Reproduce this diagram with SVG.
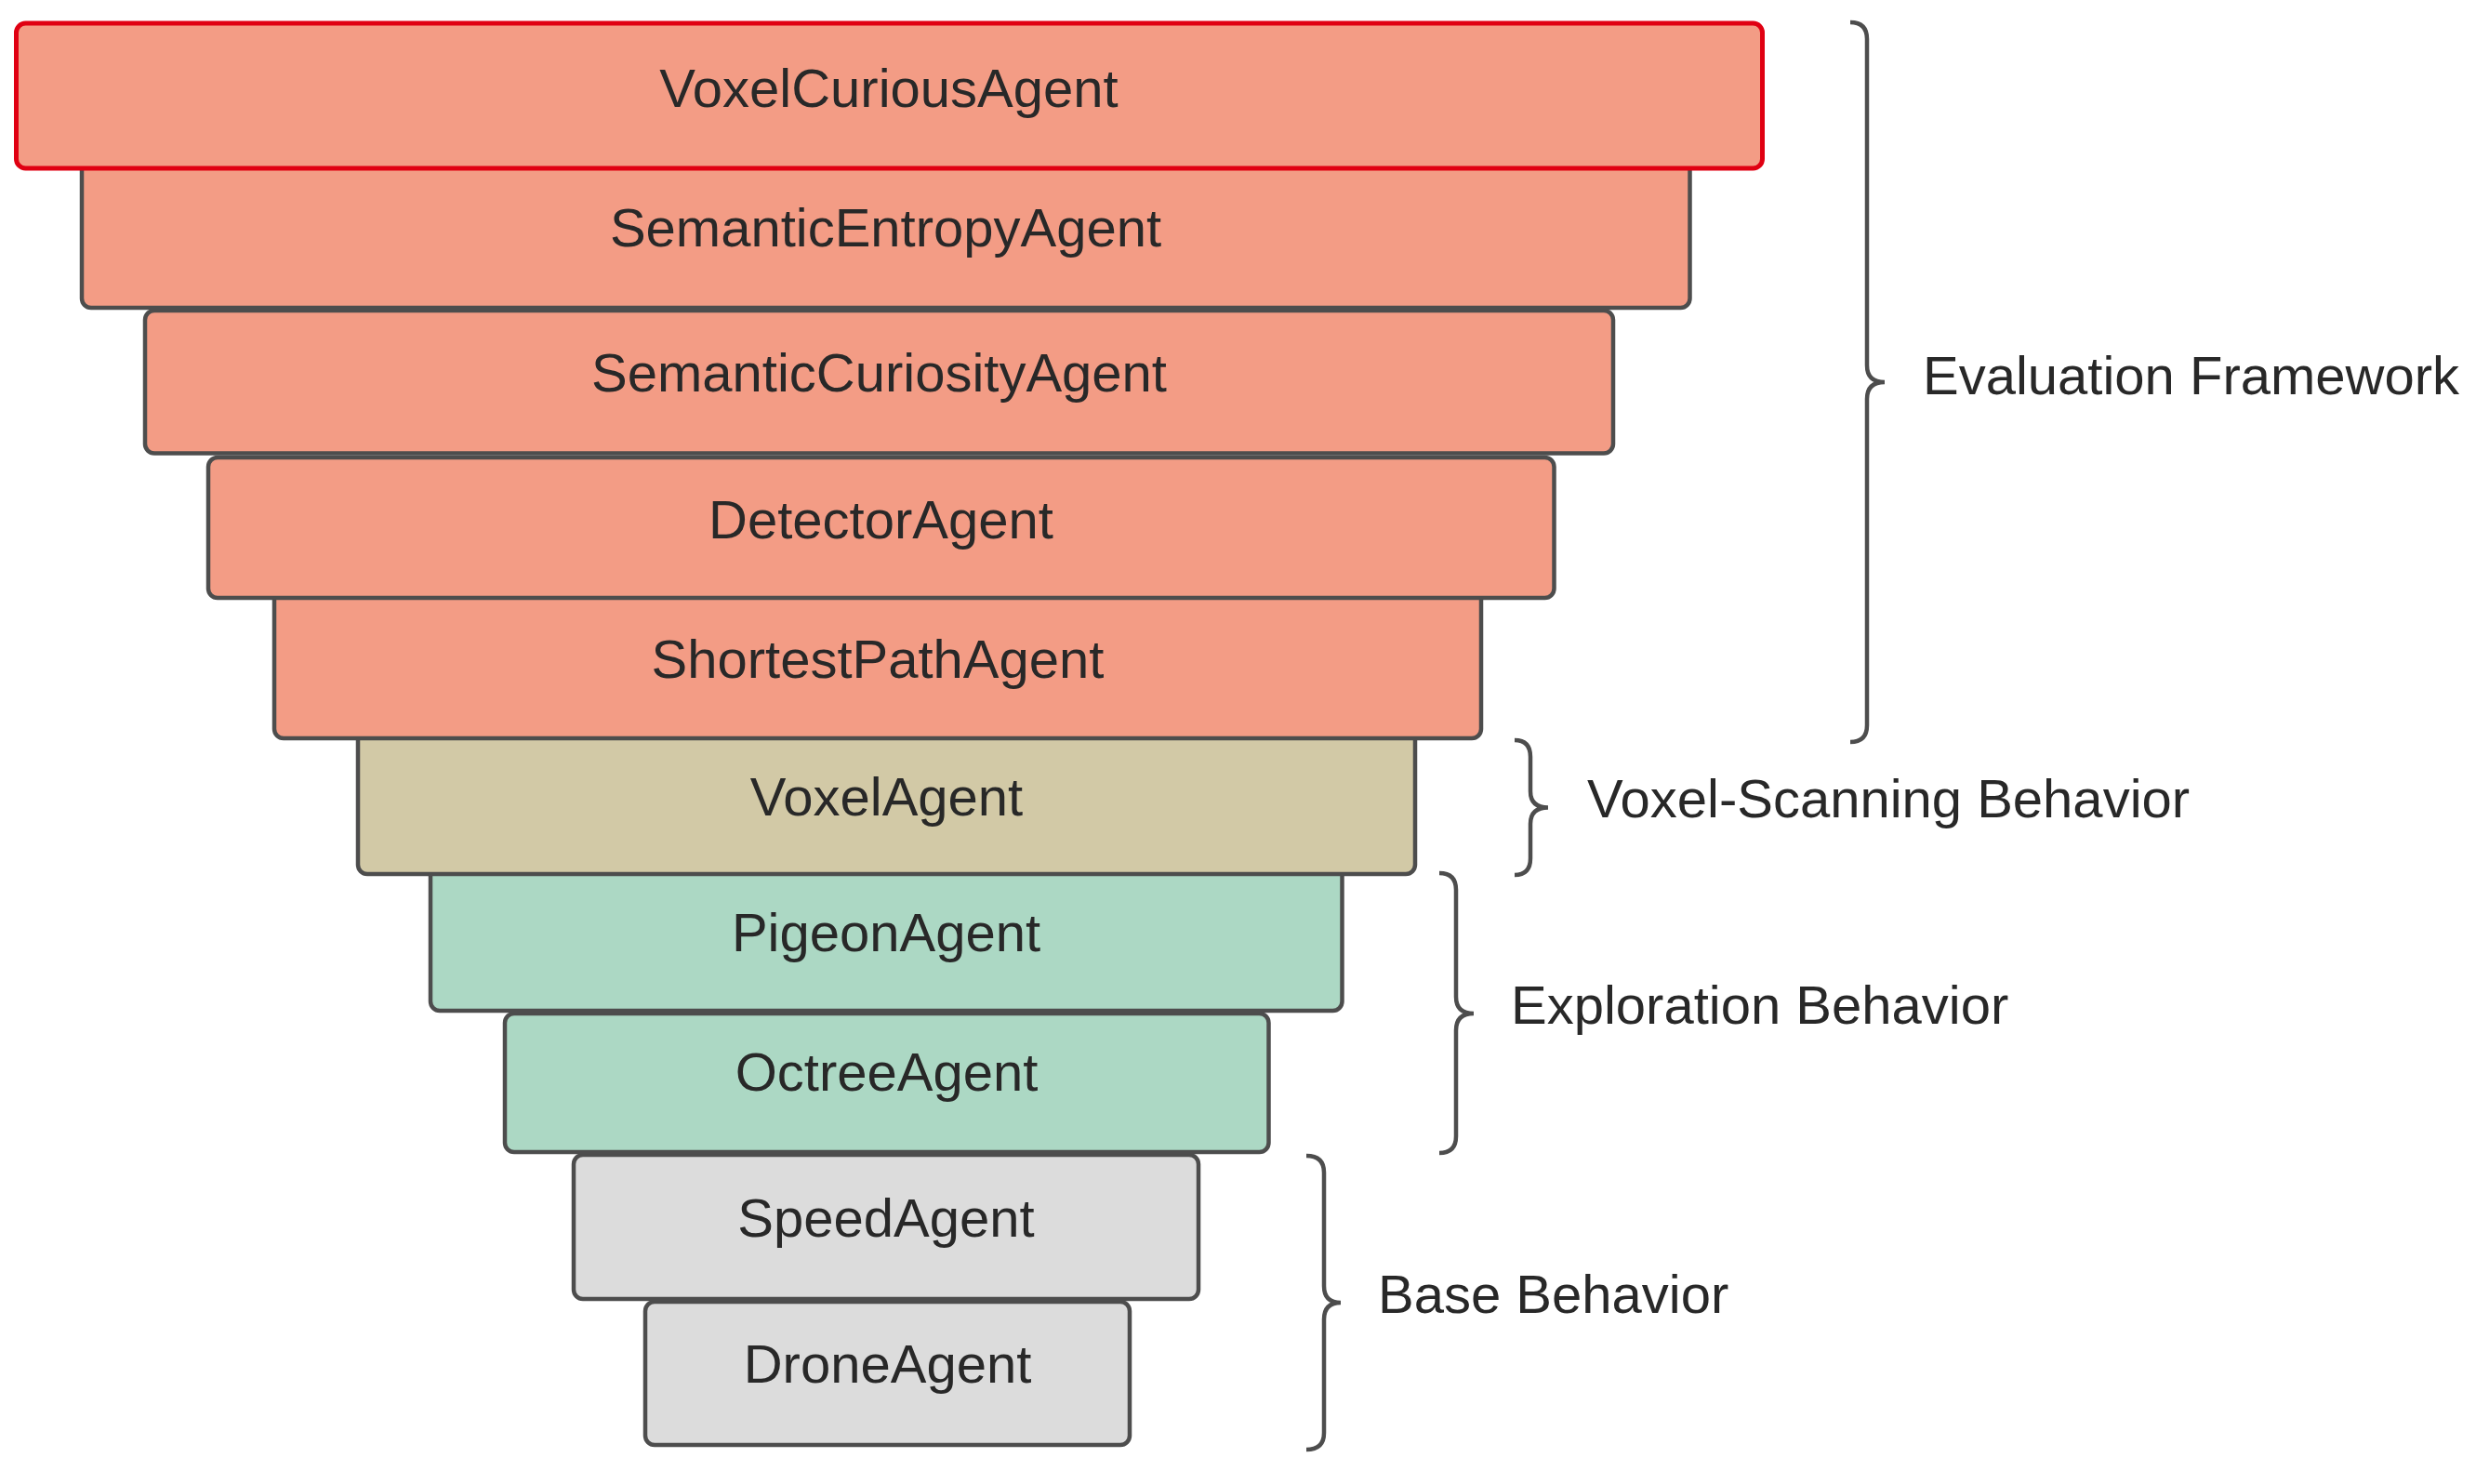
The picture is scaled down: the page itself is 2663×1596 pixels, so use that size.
<svg xmlns="http://www.w3.org/2000/svg" width="2663" height="1596" viewBox="0 0 2663 1596">
<style>
  .box{stroke:#4d4d4d;stroke-width:4.5;}
  .red{stroke:#e00012;stroke-width:5;}
  .eval{fill:#f39c85;}
  .voxel{fill:#d2c9a6;}
  .explore{fill:#acd8c4;}
  .base{fill:#dcdcdc;}
  text{font-family:"Liberation Sans",Arial,sans-serif;font-size:58px;fill:#282828;}
  .c{text-anchor:middle;}
  .brace{fill:none;stroke:#4d4d4d;stroke-width:4.5;stroke-linecap:butt;}
</style>
<rect x="0" y="0" width="2663" height="1596" fill="#ffffff"/>

<g id="node-drone">
  <rect class="box base" x="694" y="1400" width="521" height="154" rx="10"/>
  <text class="c" x="954.5" y="1487">DroneAgent</text>
</g>
<g id="node-speed">
  <rect class="box base" x="617" y="1242" width="672" height="155" rx="10"/>
  <text class="c" x="953" y="1330">SpeedAgent</text>
</g>
<g id="node-octree">
  <rect class="box explore" x="543" y="1090" width="821.5" height="149" rx="10"/>
  <text class="c" x="953.5" y="1173">OctreeAgent</text>
</g>
<g id="node-pigeon">
  <rect class="box explore" x="463" y="925" width="980.5" height="162" rx="10"/>
  <text class="c" x="953" y="1023">PigeonAgent</text>
</g>
<g id="node-voxel">
  <rect class="box voxel" x="385" y="780" width="1137" height="160" rx="10"/>
  <text class="c" x="953.5" y="877">VoxelAgent</text>
</g>
<g id="node-shortestpath">
  <rect class="box eval" x="295" y="630" width="1298" height="164" rx="10"/>
  <text class="c" x="944" y="729">ShortestPathAgent</text>
</g>
<g id="node-detector">
  <rect class="box eval" x="224" y="492" width="1447.5" height="151" rx="10"/>
  <text class="c" x="947.5" y="579">DetectorAgent</text>
</g>
<g id="node-semanticcuriosity">
  <rect class="box eval" x="156" y="334" width="1579" height="153.5" rx="10"/>
  <text class="c" x="945.5" y="421">SemanticCuriosityAgent</text>
</g>
<g id="node-semanticentropy">
  <rect class="box eval" x="88" y="165" width="1729.5" height="166" rx="10"/>
  <text class="c" x="952.5" y="265">SemanticEntropyAgent</text>
</g>
<g id="node-voxelcurious">
  <rect class="red eval" x="17.5" y="25" width="1878" height="156" rx="10"/>
  <text class="c" x="956" y="115">VoxelCuriousAgent</text>
</g>

<g id="connectors">
  <path id="brace-evaluation" class="brace" d="M1990,24 Q2008,24 2008,42 L2008,393 Q2008,411 2027,411 Q2008,411 2008,429 L2008,780 Q2008,798 1990,798"/>
  <path id="brace-voxel" class="brace" d="M1629,796 Q1646,796 1646,814 L1646,851 Q1646,868.5 1665,868.5 Q1646,868.5 1646,886 L1646,923 Q1646,941 1629,941"/>
  <path id="brace-exploration" class="brace" d="M1548,939 Q1566,939 1566,957 L1566,1072 Q1566,1090 1585,1090 Q1566,1090 1566,1108 L1566,1222 Q1566,1240 1548,1240"/>
  <path id="brace-base" class="brace" d="M1405,1243 Q1424,1243 1424,1261 L1424,1383 Q1424,1401 1442,1401 Q1424,1401 1424,1419 L1424,1541 Q1424,1559 1405,1559"/>
</g>

<g id="label-evaluation">
  <text x="2068" y="424">Evaluation Framework</text>
</g>
<g id="label-voxel">
  <text x="1707" y="879">Voxel-Scanning Behavior</text>
</g>
<g id="label-exploration">
  <text x="1625" y="1101">Exploration Behavior</text>
</g>
<g id="label-base">
  <text x="1482" y="1412">Base Behavior</text>
</g>
</svg>
